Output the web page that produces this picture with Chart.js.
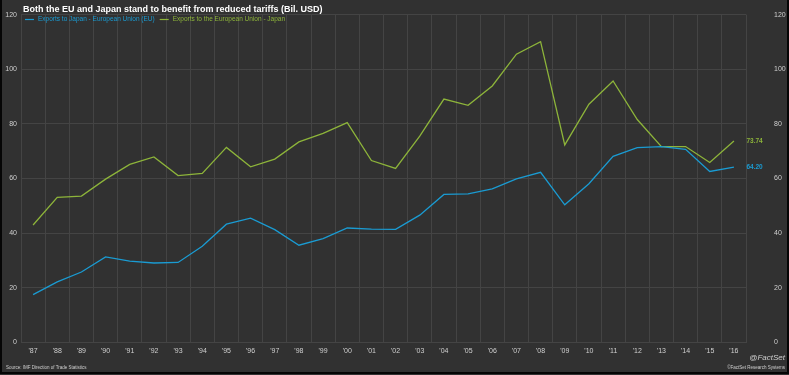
<!DOCTYPE html>
<html>
<head>
<meta charset="utf-8">
<script src="https://cdn.jsdelivr.net/npm/chart.js@4/dist/chart.umd.min.js"></script>
<style>
  html, body { margin: 0; padding: 0; background: #313131; }
  #chart { display: block; }
</style>
</head>
<body>
<canvas id="chart" width="789" height="375"></canvas>
<script>
// Data (Bil. USD)
const years = ["'87", "'88", "'89", "'90", "'91", "'92", "'93", "'94", "'95", "'96",
    "'97", "'98", "'99", "'00", "'01", "'02", "'03", "'04", "'05", "'06",
    "'07", "'08", "'09", "'10", "'11", "'12", "'13", "'14", "'15", "'16"];

const euToJapan = [17.5, 22.2, 25.8, 31.3, 29.8, 29.1, 29.3, 35.2, 43.3, 45.5,
    41.3, 35.6, 38.0, 41.9, 41.5, 41.4, 46.6, 54.2, 54.4, 56.2,
    59.9, 62.3, 50.4, 58.1, 68.1, 71.3, 71.7, 70.7, 62.6, 64.20];

const japanToEu = [43.0, 53.1, 53.6, 59.8, 65.2, 67.9, 61.1, 61.9, 71.4, 64.3,
    67.1, 73.4, 76.5, 80.5, 66.6, 63.7, 75.5, 89.1, 86.8, 93.9,
    105.5, 110.1, 72.3, 87.2, 95.7, 81.6, 71.7, 71.7, 65.9, 73.74];

const seriesNames = ["Exports to Japan - European Union (EU)", "Exports to the European Union - Japan"];
const yTicks = { min: 0, max: 120, step: 20 };

const BLUE = "#1a9bd2";
const GREEN = "#8db43a";
const BG = "#313131";
const GRID = "#444444";
const TEXT = "#cfcfcf";
const FONT = "'Liberation Sans', Arial, sans-serif";

// background, frame, title, legend, end labels, footers
const decor = {
    id: "decor",
    beforeDraw(chart) {
        const ctx = chart.ctx;
        ctx.save();
        ctx.fillStyle = BG;
        ctx.fillRect(0, 0, chart.width, chart.height);
        ctx.restore();
    },
    afterDraw(chart) {
        const ctx = chart.ctx;
        const W = chart.width, H = chart.height;
        ctx.save();

        // title
        ctx.fillStyle = "#ffffff";
        ctx.font = "bold 9px " + FONT;
        ctx.textBaseline = "alphabetic";
        ctx.textAlign = "left";
        ctx.fillText("Both the EU and Japan stand to benefit from reduced tariffs (Bil. USD)", 23, 12);

        // legend
        ctx.font = "6.5px " + FONT;
        ctx.textBaseline = "middle";
        const colors = [BLUE, GREEN];
        let lx = 25;
        seriesNames.forEach((name, i) => {
            ctx.strokeStyle = colors[i];
            ctx.lineWidth = 1.2;
            ctx.beginPath();
            ctx.moveTo(lx, 19.5);
            ctx.lineTo(lx + 9, 19.5);
            ctx.stroke();
            ctx.fillStyle = colors[i];
            ctx.fillText(name, lx + 13, 19.5);
            lx += 13 + ctx.measureText(name).width + 5;
        });

        // end-of-line value labels
        ctx.font = "bold 6.5px " + FONT;
        chart.data.datasets.forEach((ds, i) => {
            const meta = chart.getDatasetMeta(i);
            const last = meta.data[meta.data.length - 1];
            const v = ds.data[ds.data.length - 1];
            ctx.fillStyle = ds.borderColor;
            ctx.fillText(v.toFixed(2), last.x + 12.5, last.y);
        });

        // footers
        ctx.fillStyle = TEXT;
        ctx.font = "4.5px " + FONT;
        ctx.textBaseline = "middle";
        ctx.fillText("Source: IMF Direction of Trade Statistics", 6, 368);
        ctx.textAlign = "right";
        ctx.fillText("\u00A9FactSet Research Systems", 785, 368);
        ctx.font = "italic 8px " + FONT;
        ctx.fillText("@FactSet", 785, 358);

        // dark frame
        ctx.strokeStyle = "#050505";
        ctx.lineWidth = 2;
        ctx.beginPath();
        ctx.moveTo(1, 0);
        ctx.lineTo(1, H - 2);
        ctx.lineTo(W - 1, H - 2);
        ctx.lineTo(W - 1, 0);
        ctx.stroke();
        ctx.restore();
    }
};

const tickFont = { family: FONT, size: 7 };

new Chart(document.getElementById("chart"), {
    type: "line",
    data: {
        labels: years,
        datasets: [
            {
                label: seriesNames[0],
                data: euToJapan,
                borderColor: BLUE,
                borderWidth: 1.3,
                pointRadius: 0,
                tension: 0
            },
            {
                label: seriesNames[1],
                data: japanToEu,
                borderColor: GREEN,
                borderWidth: 1.3,
                pointRadius: 0,
                tension: 0
            }
        ]
    },
    options: {
        responsive: false,
        animation: false,
        devicePixelRatio: 1,
        layout: { padding: { top: 14.6, left: 0, right: 0, bottom: 0 } },
        plugins: {
            legend: { display: false },
            tooltip: { enabled: false }
        },
        scales: {
            x: {
                type: "category",
                offset: true,
                grid: { color: GRID, offset: true, drawTicks: false, lineWidth: 1 },
                border: { display: false },
                ticks: { color: TEXT, font: tickFont, padding: 4, maxRotation: 0, autoSkip: false },
                afterFit(scale) { scale.height = 32.5; }
            },
            y: {
                position: "left",
                min: yTicks.min,
                max: yTicks.max,
                grid: { color: GRID, drawTicks: false, lineWidth: 1 },
                border: { display: false },
                ticks: { color: TEXT, font: tickFont, stepSize: yTicks.step, padding: 4 },
                afterFit(scale) { scale.width = 21; }
            },
            y2: {
                position: "right",
                min: yTicks.min,
                max: yTicks.max,
                grid: { display: false, drawTicks: false },
                border: { display: false },
                ticks: { color: TEXT, font: tickFont, stepSize: yTicks.step, padding: 28 },
                afterFit(scale) {
                    // the wide label gap should not push the plot down
                    scale.width = 43;
                    scale.paddingTop = 4;
                    scale.paddingBottom = 4;
                }
            }
        }
    },
    plugins: [decor]
});
</script>
</body>
</html>
